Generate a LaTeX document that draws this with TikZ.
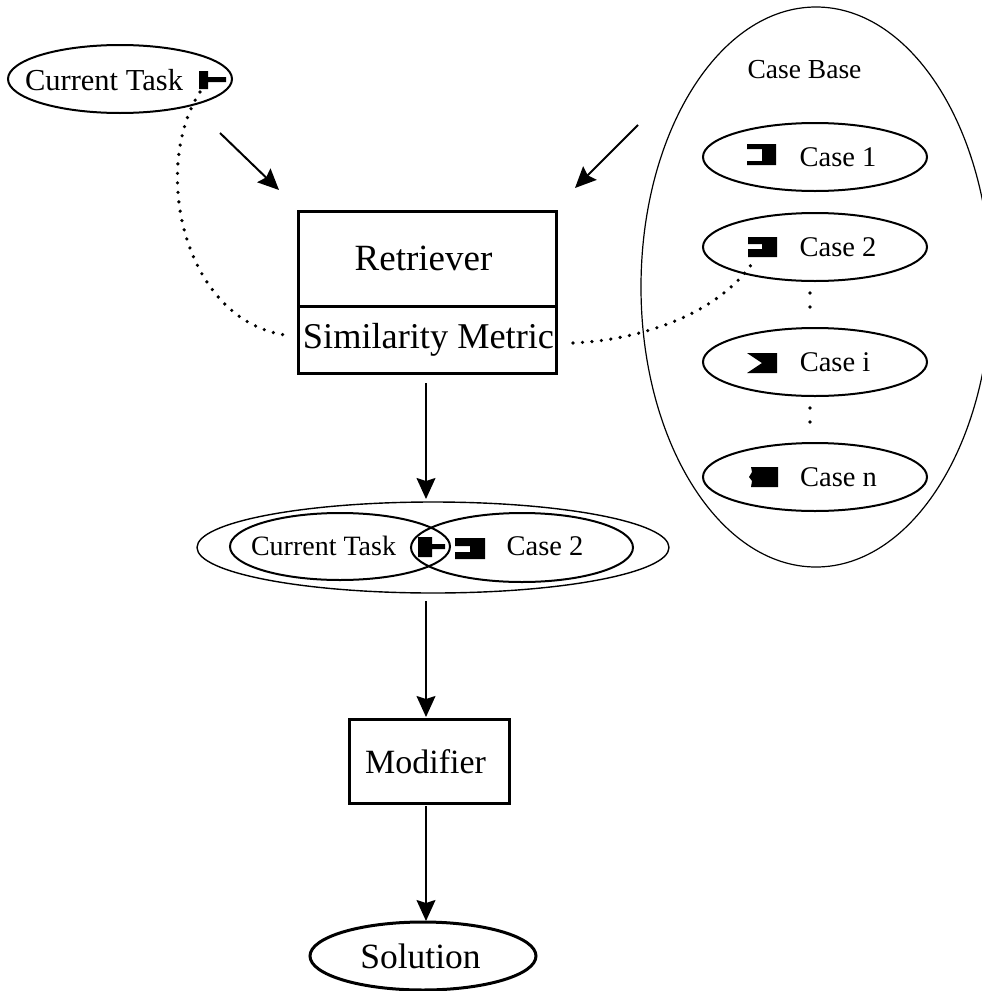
\documentclass[tikz,border=0pt]{standalone}
\usepackage{fontspec}
\setmainfont{Liberation Serif}
\usetikzlibrary{shapes.geometric,arrows.meta}
\newcommand{\fs}[1]{\fontsize{#1}{#1}\selectfont}
\tikzset{
  ell/.style={draw=black,ellipse,inner sep=0pt,line width=2pt},
  caseell/.style={ell,minimum width=224pt,minimum height=68pt},
  boxn/.style={draw=black,rectangle,inner sep=0pt,line width=3pt},
  txt/.style={inner sep=0pt,text=black},
  arr/.style={-{Stealth[length=21pt,width=19pt,inset=3pt]},line width=1.5pt,black},
  dotsb/.style={line width=3.8pt,line cap=round,dash pattern=on 0pt off 14pt,black},
  dotsc/.style={line width=3.6pt,line cap=round,dash pattern=on 0pt off 9.5pt,black},
  glyph/.style={fill=black,draw=none}
}
\begin{document}
\begin{tikzpicture}[x=1pt,y=-1pt]
\useasboundingbox (0,0) rectangle (982,991);
\clip (0,0) rectangle (982,991);
% case base
\node[ell,line width=1.2pt,minimum width=350pt,minimum height=560pt] (base) at (816,287) {};
\node[txt] (basetxt) at (804.5,70) {\fs{27.5}Case Base};
\node[caseell] (c1) at (815,157) {};
\node[caseell] (c2) at (815,247) {};
\node[caseell] (ci) at (815,362) {};
\node[caseell] (cn) at (815,477) {};
\node[txt] (c1t) at (838,157) {\fs{28.5}Case 1};
\node[txt] (c2t) at (838,247) {\fs{28.5}Case 2};
\node[txt] (cit) at (835,362) {\fs{28.5}Case i};
\node[txt] (cnt) at (838.5,477) {\fs{28.5}Case n};
\draw[glyph] (747,144)--(776,144)--(776,165)--(747,165)--(747,161)--(762,161)--(762,149)--(747,149)--cycle;
\draw[glyph] (748,237)--(777,237)--(777,257)--(748,257)--(748,249)--(762,249)--(762,244)--(748,244)--cycle;
\draw[glyph] (747,353)--(777,353)--(777,373)--(747,373)--(762,363)--cycle;
\draw[glyph] (751,467)--(778,467)--(778,487)--(751,487)--(752,481)--(749,477)--(752,472)--cycle;
\coordinate (c2b) at (810,293);
\coordinate (cit2) at (810,321);
\coordinate (cib) at (810,408);
\coordinate (cnt2) at (810,436);
\draw[dotsb] (c2b) -- (cit2);
\draw[dotsb] (cib) -- (cnt2);
% current task
\node[ell,minimum width=224pt,minimum height=68pt] (task) at (120,79) {};
\node[txt] (taskt) at (104,80) {\fs{30.5}Current Task};
\draw[glyph] (199,71)--(208,71)--(208,77)--(226,77)--(226,82)--(208,82)--(208,89)--(199,89)--cycle;
% retriever
\node[boxn,minimum width=258pt,minimum height=95pt] (ret) at (427.5,258.5) {};
\node[boxn,minimum width=258pt,minimum height=67pt] (sim) at (427.5,339.5) {};
\node[txt] (rett) at (423.5,258) {\fs{37}Retriever};
\node[txt,anchor=base] (simt) at (428.5,348) {\fs{36.3}Similarity Metric};
% merged
\node[ell,line width=1.4pt,minimum width=472pt,minimum height=91pt] (merged) at (433,547.5) {};
\node[ell,minimum width=220pt,minimum height=67pt] (mleft) at (340,546.5) {};
\node[ell,minimum width=222pt,minimum height=69pt] (mright) at (522,547.5) {};
\node[txt] (mlt) at (323.5,546) {\fs{28}Current Task};
\node[txt] (mrt) at (545,546) {\fs{28.5}Case 2};
\draw[glyph] (418,537)--(432,537)--(432,544)--(445,544)--(445,549)--(432,549)--(432,557)--(418,557)--cycle;
\draw[glyph] (455,538)--(485,538)--(485,559)--(455,559)--(455,552)--(470,552)--(470,546)--(455,546)--cycle;
% modifier, solution
\node[boxn,minimum width=160pt,minimum height=84pt] (mod) at (429.5,761) {};
\node[txt,anchor=base] (modt) at (425.5,773) {\fs{34}Modifier};
\node[ell,line width=3pt,minimum width=226pt,minimum height=68pt] (sol) at (423,956) {};
\node[txt,anchor=base] (solt) at (420.5,968) {\fs{35.5}Solution};
% arrows
\coordinate (a1s) at (220,133);
\coordinate (a1e) at (279,190);
\coordinate (a2s) at (638,125);
\coordinate (a2e) at (575,188);
\coordinate (a3s) at (426,383);
\coordinate (a3e) at (426,499);
\coordinate (a4s) at (426,601);
\coordinate (a4e) at (426,717);
\coordinate (a5s) at (426,806);
\coordinate (a5e) at (426,921);
\draw[arr,line width=2pt] (a1s) -- (a1e);
\draw[arr,line width=2pt] (a2s) -- (a2e);
\draw[arr] (a3s) -- (a3e);
\draw[arr] (a4s) -- (a4e);
\draw[arr] (a5s) -- (a5e);
% dotted links
\coordinate (h) at (200,92);
\coordinate (sl) at (285,335);
\coordinate (sr) at (573,343);
\coordinate (g2) at (751,265);
\draw[dotsc] (h) .. controls (150,170) and (185,320) .. (sl);
\draw[dotsc] (sr) .. controls (640,340) and (715,315) .. (g2);
\end{tikzpicture}
\end{document}
